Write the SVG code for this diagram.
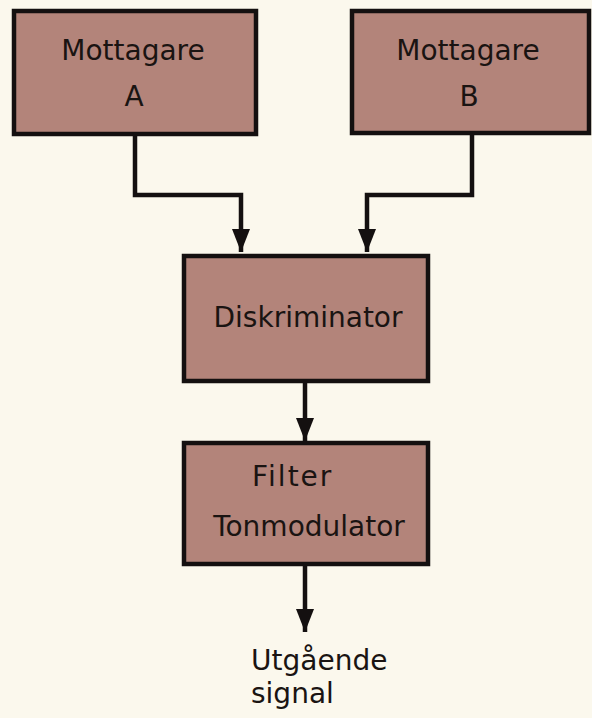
<svg xmlns="http://www.w3.org/2000/svg" width="592" height="718" viewBox="0 0 592 718">
<style>
.box{fill:#b3847a;stroke:#141010;stroke-width:4.5}
.t{font-family:"DejaVu Sans","Liberation Sans",sans-serif;font-size:28px;fill:#1a1412}
.c{fill:none;stroke:#141010;stroke-width:4.5}
</style>
<defs>
<marker id="ah" viewBox="0 0 23 18" refX="23" refY="9" markerWidth="23" markerHeight="18" markerUnits="userSpaceOnUse" orient="auto">
<path d="M0,0 L23,9 L0,18 Z" fill="#141010"/>
</marker>
</defs>
<rect width="592" height="718" fill="#fbf8ed"/>
<g id="mottagareA">
<rect class="box" x="14" y="11" width="242" height="123"/>
<text class="t" x="133" y="60" text-anchor="middle">Mottagare</text>
<text class="t" x="134" y="106" text-anchor="middle">A</text>
</g>
<g id="mottagareB">
<rect class="box" x="352" y="11" width="237" height="122"/>
<text class="t" x="468" y="60" text-anchor="middle">Mottagare</text>
<text class="t" x="469" y="106" text-anchor="middle">B</text>
</g>
<g id="diskriminator">
<rect class="box" x="184" y="256" width="244" height="125"/>
<text class="t" x="308" y="327" text-anchor="middle">Diskriminator</text>
</g>
<g id="filter">
<rect class="box" x="184" y="443" width="244" height="121"/>
<text class="t" x="252" y="486" letter-spacing="2">Filter</text>
<text class="t" x="309" y="536" text-anchor="middle">Tonmodulator</text>
</g>
<g id="output">
<text class="t" x="251" y="670">Utgående</text>
<text class="t" x="251" y="703">signal</text>
</g>
<g id="connectors">
<path class="c" d="M135,134 V195 H241 V252" marker-end="url(#ah)"/>
<path class="c" d="M472,133 V195 H367 V252" marker-end="url(#ah)"/>
<path class="c" d="M305,381 V441" marker-end="url(#ah)"/>
<path class="c" d="M305,564 V632" marker-end="url(#ah)"/>
</g>
</svg>
